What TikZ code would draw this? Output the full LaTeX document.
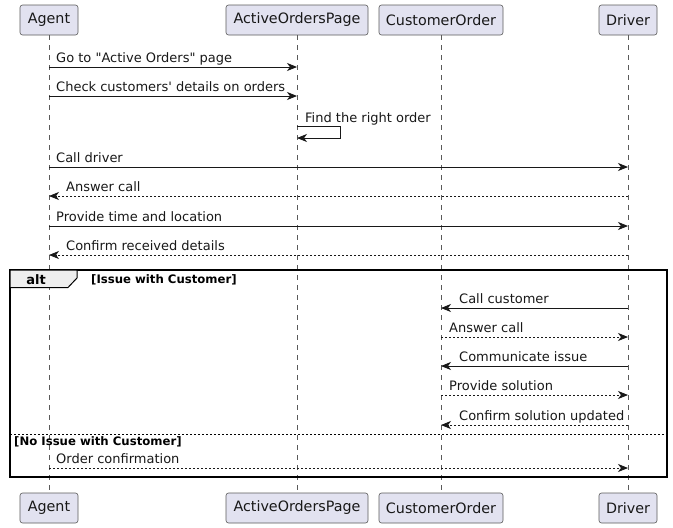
\documentclass[tikz,border=0pt]{standalone}
\usepackage{fontspec}
\setmainfont{DejaVu Sans}
\usetikzlibrary{arrows.meta}
\definecolor{partfill}{HTML}{E2E2F0}
\definecolor{partline}{HTML}{5A5A5A}
\definecolor{linec}{HTML}{181818}
\definecolor{tabfill}{HTML}{EEEEEE}
\tikzset{
  part/.style={draw=partline, fill=partfill, rounded corners=2.5pt, line width=0.6pt,
    minimum height=30pt, inner sep=0pt, font=\fontsize{14.3}{16}\selectfont, text=linec},
  lifeline/.style={draw=partline, line width=0.6pt, dash pattern=on 5pt off 5pt},
  msg/.style={draw=linec, line width=0.8pt, -{Stealth[length=10pt,width=8pt,inset=3pt]}},
  rmsg/.style={msg, dash pattern=on 2pt off 2pt},
  lbl/.style={anchor=base west, inner sep=0pt, font=\fontsize{13}{15}\selectfont, text=linec},
  guard/.style={anchor=base west, inner sep=0pt, font=\fontsize{11.7}{13}\bfseries\selectfont, text=black}
}
\begin{document}
\begin{tikzpicture}[x=1pt,y=-1pt]
\useasboundingbox (0,0) rectangle (673,528);
% participants
\node[part, minimum width=58pt] (aT) at (49,20) {Agent};
\node[part, minimum width=142pt] (pT) at (297,20) {ActiveOrdersPage};
\node[part, minimum width=124pt] (cT) at (441,20) {CustomerOrder};
\node[part, minimum width=58pt] (dT) at (628,20) {Driver};
\node[part, minimum width=58pt] (aB) at (49,508) {Agent};
\node[part, minimum width=142pt] (pB) at (297,508) {ActiveOrdersPage};
\node[part, minimum width=124pt] (cB) at (441,508) {CustomerOrder};
\node[part, minimum width=58pt] (dB) at (628,508) {Driver};
% lifelines
\draw[lifeline] (aT) -- (aB);
\draw[lifeline] (pT) -- (pB);
\draw[lifeline] (cT) -- (cB);
\draw[lifeline] (dT) -- (dB);
% messages
\draw[msg] (aT |- 0,67) -- (pT |- 0,67);
\node[lbl] (l1) at (56,62) {Go to \textquotedbl Active Orders\textquotedbl{} page};
\draw[msg] (aT |- 0,96) -- (pT |- 0,96);
\node[lbl] (l2) at (56,91) {Check customers\textquotesingle{} details on orders};
\coordinate (s1) at (340,126);
\coordinate (s2) at (340,138);
\draw[msg] (pT |- 0,126) -- (s1) -- (s2) -- (pT |- 0,138);
\node[lbl] (l3) at (305,122) {Find the right order};
\draw[msg] (aT |- 0,167) -- (dT |- 0,167);
\node[lbl] (l4) at (56,162) {Call driver};
\draw[rmsg] (dT |- 0,196) -- (aT |- 0,196);
\node[lbl] (l5) at (66,191) {Answer call};
\draw[msg] (aT |- 0,226) -- (dT |- 0,226);
\node[lbl] (l6) at (56,221) {Provide time and location};
\draw[rmsg] (dT |- 0,255) -- (aT |- 0,255);
\node[lbl] (l7) at (66,250) {Confirm received details};
% alt fragment
\draw[line width=1.5pt, draw=black] (10,270) rectangle (667,477);
\draw[fill=tabfill, draw=black, line width=1pt] (10,270) -- (77,270) -- (77,278) -- (68,287.5) -- (10,287.5) -- cycle;
\node[anchor=base, inner sep=0pt, font=\fontsize{13}{15}\bfseries\selectfont] (alt) at (36,284) {alt};
\node[guard] (g1) at (91,283) {[Issue with Customer]};
\draw[line width=0.8pt, dash pattern=on 2pt off 2pt] (10,434) -- (667,434);
\node[guard] (g2) at (14,445) {[No Issue with Customer]};
\draw[msg] (dT |- 0,308) -- (cT |- 0,308);
\node[lbl] (l8) at (459,303) {Call customer};
\draw[rmsg] (cT |- 0,337) -- (dT |- 0,337);
\node[lbl] (l9) at (449,332) {Answer call};
\draw[msg] (dT |- 0,366) -- (cT |- 0,366);
\node[lbl] (l10) at (459,361) {Communicate issue};
\draw[rmsg] (cT |- 0,395) -- (dT |- 0,395);
\node[lbl] (l11) at (449,390) {Provide solution};
\draw[rmsg] (dT |- 0,425) -- (cT |- 0,425);
\node[lbl] (l12) at (459,420) {Confirm solution updated};
\draw[rmsg] (aT |- 0,468) -- (dT |- 0,468);
\node[lbl] (l13) at (56,463) {Order confirmation};
\end{tikzpicture}
\end{document}
